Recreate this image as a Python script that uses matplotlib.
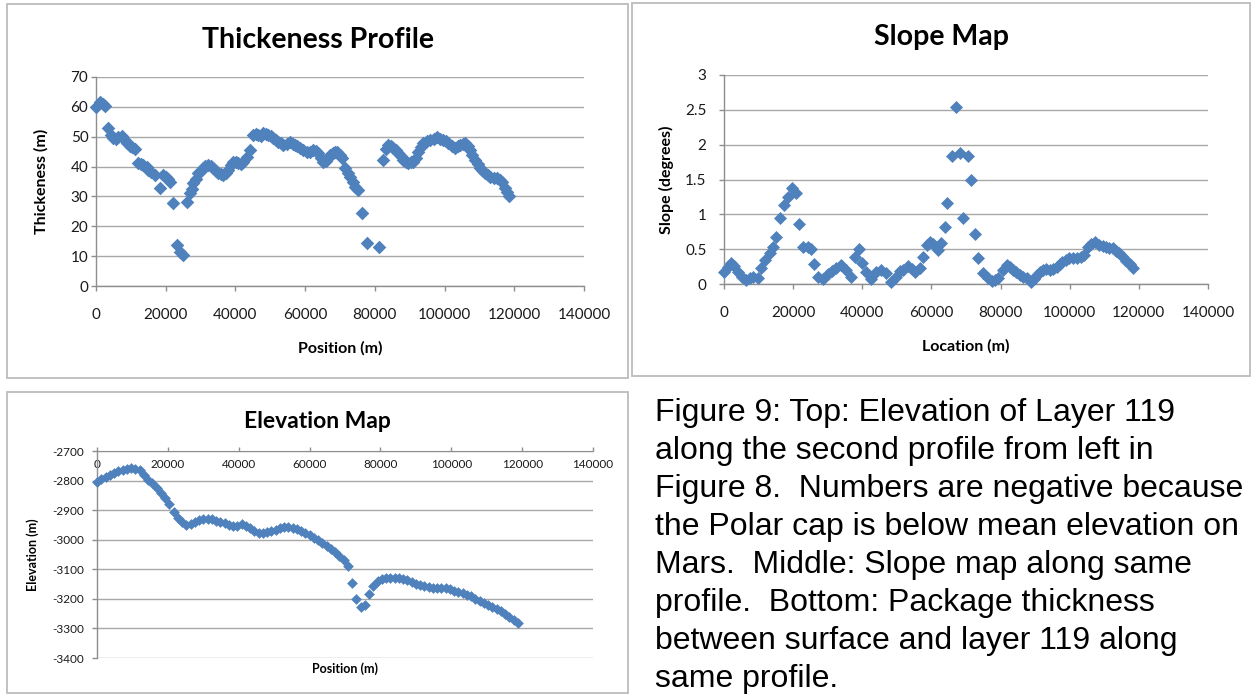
import numpy as np
import matplotlib
matplotlib.use("Agg")
import matplotlib.pyplot as plt
from matplotlib.patches import Rectangle
from matplotlib.ticker import FuncFormatter

# Package thickness between surface and layer 119 (m) along the profile
thick_pos = [0, 1100, 2000, 2600, 3500, 4400, 4900, 5700, 6300, 7500, 8300, 8900, 9700, 10300,
             11300, 12100, 13000, 13500, 14500, 14900, 15800, 16900, 18400, 19200, 20000, 20700,
             21300, 22100, 23300, 24200, 25000, 26100, 27000, 27500, 27900, 28600, 29300, 30000,
             30700, 31400, 32100, 32900, 33600, 34300, 35000, 35800, 36500, 37200, 37900, 38700,
             39400, 40100, 40800, 41500, 42200, 43300, 44200, 45100, 45800, 46500, 47200, 48000,
             48700, 49400, 50100, 50800, 51500, 52200, 53000, 53700, 54700, 55700, 56400, 57100,
             57800, 58500, 59500, 60600, 61500, 62300, 63000, 63700, 64500, 65200, 65900, 66600,
             67200, 67900, 68600, 69200, 70000, 70600, 71500, 72200, 72900, 73600, 74300, 75300,
             76300, 77800, 81200, 82400, 83100, 83800, 84500, 85200, 86000, 86700, 87400, 88100,
             88800, 89500, 90300, 91000, 91700, 92400, 93100, 93900, 94900, 95900, 96900, 97900,
             98800, 99600, 100300, 101000, 102000, 103000, 103800, 104500, 105200, 105900, 106600,
             107300, 108000, 108800, 109500, 110200, 110900, 111600, 112400, 113100, 114100,
             115100, 115800, 116500, 117400, 118000, 118500]
thick_m = [60, 61.6, 61, 60.4, 52.8, 50.5, 49.6, 49.3, 49.9, 50.4, 48.8, 47.9, 47, 46.6,
           45.8, 41.2, 40.8, 40.5, 40, 38.9, 38.2, 37.2, 32.8, 37.2, 36.5, 35.8,
           35, 27.8, 13.7, 11.5, 10.4, 28.1, 31.2, 32.5, 34.5, 36, 37.9, 38.6,
           39.5, 40.2, 40.5, 40.2, 39.5, 38.5, 37.9, 37.6, 37.2, 37.8, 38.9, 40.5,
           41.5, 41.6, 41.2, 41, 41.5, 43.2, 45.6, 50.6, 50.8, 50.6, 50.4, 51.2,
           51, 50.6, 50.2, 49.6, 49, 48.2, 47.8, 47.2, 47.6, 48.2, 47.6, 47.2,
           46.8, 46.2, 45.5, 44.9, 45, 45.6, 45.2, 44.6, 43, 41.5, 42, 42.9,
           43.9, 44.4, 44.9, 44.9, 43.8, 42.9, 39.5, 38, 36.5, 34.8, 33.2, 32.2,
           24.5, 14.4, 13, 42.2, 46, 47.2, 46.8, 46.2, 45.5, 44.6, 43.5, 42.2,
           41.5, 41.2, 41.4, 41.5, 43, 44.9, 46.5, 47.9, 48.4, 48.9, 49.3, 49.9,
           49.4, 48.9, 48.4, 47.9, 47, 46.2, 46.8, 47.2, 47.6, 47.9, 47,
           45.6, 44, 42.2, 40.8, 39.5, 38.6, 37.9, 37.2, 36.5, 36.3,
           36.2, 35.5, 34.8, 32.8, 31.4, 30.2]

# Slope (degrees) along the same profile
slope_pos = [0, 1200, 2000, 2800, 4000, 5200, 6400, 7400, 8400, 9800, 10700, 11900, 13300,
             14200, 15000, 16200, 17300, 18500, 19700, 20800, 21700, 22800, 24300, 25100, 26000,
             27200, 28600, 30000, 31200, 32400, 33800, 35200, 36700, 37800, 39000, 39900, 41000,
             42500, 43900, 45300, 46800, 48200, 49700, 50900, 51700, 53200, 54300, 55200, 56600,
             57500, 58700, 59600, 60400, 61900, 62700, 63900, 64500, 65900, 67100, 68200, 69100,
             70500, 71400, 72600, 73500, 74900, 76300, 77500, 78300, 79200, 80600, 81800, 82800,
             83500, 84500, 85500, 86600, 87600, 88700, 89600, 90400, 91300, 92200, 93200, 94200,
             95200, 96200, 97200, 97900, 98900, 99900, 101000, 102200, 103200, 104000, 105400,
             106300, 107200, 108600, 109600, 110600, 111500, 112400, 113400, 114400, 115400,
             116400, 117300, 118200]
slope_deg = [0.17, 0.25, 0.3, 0.26, 0.17, 0.1, 0.06, 0.08, 0.1, 0.08, 0.23, 0.34, 0.44,
             0.53, 0.67, 0.95, 1.13, 1.25, 1.38, 1.3, 0.86, 0.53, 0.53, 0.5, 0.29,
             0.1, 0.07, 0.14, 0.18, 0.23, 0.27, 0.2, 0.1, 0.39, 0.5, 0.3, 0.17,
             0.07, 0.17, 0.2, 0.16, 0.03, 0.1, 0.18, 0.2, 0.26, 0.22, 0.17, 0.23,
             0.39, 0.56, 0.6, 0.58, 0.49, 0.59, 0.82, 1.16, 1.84, 2.54, 1.88, 0.95,
             1.84, 1.49, 0.72, 0.37, 0.16, 0.09, 0.05, 0.06, 0.09, 0.2, 0.27, 0.24,
             0.2, 0.17, 0.13, 0.1, 0.09, 0.03, 0.07, 0.13, 0.17, 0.2, 0.21, 0.2,
             0.22, 0.24, 0.28, 0.32, 0.35, 0.37, 0.38, 0.37, 0.39, 0.42, 0.53,
             0.58, 0.6, 0.56, 0.54, 0.53, 0.52, 0.52, 0.48, 0.44, 0.39,
             0.33, 0.28, 0.23]

# Elevation of layer 119 (m)
elev_pos = [0, 1200, 2400, 3600, 4800, 6000, 7200, 8400, 9600, 10800, 12000, 13200, 14400,
            15600, 16800, 18000, 19200, 20400, 21600, 22800, 24000, 25200, 26400, 27600, 28800,
            30000, 31200, 32400, 33600, 34800, 36000, 37200, 38400, 39600, 40800, 42000, 43200,
            44400, 45600, 46800, 48000, 49200, 50400, 51600, 52800, 54000, 55200, 56400, 57600,
            58800, 60000, 61200, 62400, 63600, 64800, 66000, 67200, 68400, 69600, 70800, 72000,
            73200, 74400, 75600, 76800, 78000, 79200, 80400, 81600, 82800, 84000, 85200, 86400,
            87600, 88800, 90000, 91200, 92400, 93600, 94800, 96000, 97200, 98400, 99600, 100800,
            102000, 103200, 104400, 105600, 106800, 108000, 109200, 110400, 111600, 112800,
            114000, 115200, 116400, 117600, 118800]
elev_m = [-2805, -2795, -2788, -2780, -2774, -2769, -2765, -2760, -2758, -2760, -2764, -2782, -2798,
          -2808, -2826, -2843, -2859, -2880, -2905, -2926, -2940, -2950, -2946, -2940, -2935,
          -2930, -2930, -2931, -2936, -2940, -2945, -2950, -2955, -2954, -2948, -2952, -2962,
          -2972, -2977, -2976, -2973, -2970, -2966, -2961, -2958, -2958, -2960, -2965, -2970,
          -2976, -2984, -2993, -3002, -3012, -3022, -3030, -3040, -3055, -3068, -3090, -3145,
          -3200, -3228, -3222, -3182, -3155, -3140, -3134, -3131, -3130, -3130, -3131, -3133,
          -3136, -3142, -3149, -3154, -3158, -3161, -3162, -3163, -3163, -3164, -3168, -3173,
          -3177, -3181, -3187, -3192, -3199, -3206, -3214, -3221, -3228, -3235,
          -3242, -3250, -3260, -3271, -3282]

caption = ("Figure 9: Top: Elevation of Layer 119\n"
           "along the second profile from left in\n"
           "Figure 8.  Numbers are negative because\n"
           "the Polar cap is below mean elevation on\n"
           "Mars.  Middle: Slope map along same\n"
           "profile.  Bottom: Package thickness\n"
           "between surface and layer 119 along\n"
           "same profile.")

BLUE = "#4f81bd"
GRID = "#a8a8a8"
AXIS = "#8e8e8e"
FRAME = "#bcbcbc"

W, H = 1251, 694
plt.rcParams["font.family"] = ["Lato", "DejaVu Sans"]
plt.rcParams["axes.unicode_minus"] = False

fig = plt.figure(figsize=(W / 100, H / 100), dpi=100)
fig.patch.set_facecolor("white")


def fx(x):
    return x / W


def fy(y):
    return 1 - y / H


def rect(x0, y0, x1, y1):
    return [fx(x0), fy(y1), (x1 - x0) / W, (y1 - y0) / H]


def frame(x0, y0, x1, y1):
    fig.add_artist(Rectangle((fx(x0), fy(y1)), (x1 - x0) / W, (y1 - y0) / H,
                             transform=fig.transFigure, fill=False,
                             edgecolor=FRAME, lw=1.3))


def style(ax, ylim, yticks, fs, ypad):
    ax.set_xlim(0, 140000)
    ax.set_xticks(range(0, 140001, 20000))
    ax.set_ylim(*ylim)
    ax.set_yticks(yticks)
    ax.yaxis.set_major_formatter(FuncFormatter(lambda v, p: "%g" % v))
    ax.yaxis.grid(True, color=GRID, lw=1.0)
    ax.set_axisbelow(True)
    for s in ("top", "right"):
        ax.spines[s].set_visible(False)
    for s in ("left", "bottom"):
        ax.spines[s].set_color(AXIS)
        ax.spines[s].set_linewidth(1.0)
    ax.tick_params(axis="both", colors=AXIS, labelcolor="#1a1a1a",
                   labelsize=fs, length=3.5, width=1.0, direction="out")
    ax.tick_params(axis="y", pad=ypad)


# Thickness panel
frame(7, 4, 628, 378)
ax1 = fig.add_axes(rect(96, 77, 584, 286))
style(ax1, (0, 70), range(0, 71, 10), 11, 2)
ax1.tick_params(axis="x", pad=12)
ax1.scatter(thick_pos, thick_m, marker="D", s=48, color=BLUE, linewidths=0, zorder=3, clip_on=False)
fig.text(fx(318), fy(40), "Thickeness Profile", ha="center", va="center",
         fontsize=20.5, fontweight="bold")
fig.text(fx(340), fy(348), "Position (m)", ha="center", va="center",
         fontsize=11.5, fontweight="bold")
fig.text(fx(41), fy(181), "Thickeness (m)", ha="center", va="center",
         fontsize=11.5, fontweight="bold", rotation=90)

# Slope panel
frame(632, 3, 1250, 376)
ax2 = fig.add_axes(rect(724, 75, 1208, 284))
style(ax2, (0, 3), np.arange(0, 3.01, 0.5), 11, 9)
ax2.tick_params(axis="x", pad=12)
ax2.scatter(slope_pos, slope_deg, marker="D", s=44, color=BLUE, linewidths=0, zorder=3, clip_on=False)
fig.text(fx(941), fy(37), "Slope Map", ha="center", va="center",
         fontsize=20.5, fontweight="bold")
fig.text(fx(966), fy(346), "Location (m)", ha="center", va="center",
         fontsize=11.5, fontweight="bold")
fig.text(fx(666), fy(180), "Slope (degrees)", ha="center", va="center",
         fontsize=11.5, fontweight="bold", rotation=90)

# Elevation panel: the category axis sits along the top at -2700
frame(7, 392, 628, 693)
ax3 = fig.add_axes(rect(97, 451, 593, 658))
style(ax3, (-3400, -2700), range(-3400, -2699, 100), 8.5, 6)
ax3.spines["bottom"].set_visible(False)
ax3.spines["top"].set_visible(True)
ax3.spines["top"].set_color(AXIS)
ax3.xaxis.tick_top()
ax3.tick_params(axis="x", top=True, bottom=False, labeltop=True, labelbottom=False,
                length=3, pad=-17)
ax3.scatter(elev_pos, elev_m, marker="D", s=30, color=BLUE, linewidths=0, zorder=3, clip_on=False)
fig.text(fx(317), fy(421), "Elevation Map", ha="center", va="center",
         fontsize=16.5, fontweight="bold")
fig.text(fx(345), fy(669), "Position (m)", ha="center", va="center",
         fontsize=9, fontweight="bold")
fig.text(fx(33), fy(555), "Elevation (m)", ha="center", va="center",
         fontsize=9, fontweight="bold", rotation=90)

# Caption
fig.text(fx(655), fy(398), caption, ha="left", va="top", fontsize=23,
         family="Liberation Sans", linespacing=1.35, color="black")

fig.savefig("out.png", dpi=100, facecolor="white")
